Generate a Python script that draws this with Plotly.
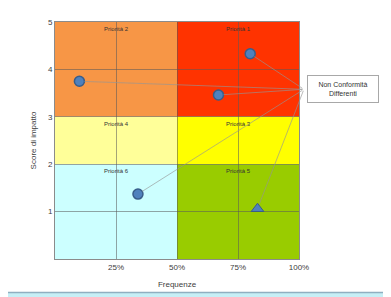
import plotly.graph_objects as go

# Data
freq = [0.10, 0.80, 0.67, 0.34]
impact = [3.75, 4.33, 3.46, 1.37]
tri_freq = [0.83]
tri_impact = [1.06]
priority_labels = ["Priorità 1", "Priorità 2", "Priorità 3", "Priorità 4", "Priorità 5", "Priorità 6"]
x_ticks = [0.25, 0.5, 0.75, 1.0]
x_tick_text = ["25%", "50%", "75%", "100%"]
y_ticks = [1, 2, 3, 4, 5]
callout_text = "Non Conformità<br>Differenti"

fig = go.Figure()

marker_color = "#4F81BD"
edge_color = "#385D8A"

fig.add_trace(go.Scatter(x=freq, y=impact, mode="markers",
                         marker=dict(size=10, color=marker_color, line=dict(color=edge_color, width=1.5)),
                         showlegend=False, hoverinfo="skip"))
fig.add_trace(go.Scatter(x=tri_freq, y=tri_impact, mode="markers",
                         marker=dict(size=11, symbol="triangle-up", color=marker_color,
                                     line=dict(color=edge_color, width=1)),
                         showlegend=False, hoverinfo="skip"))

zones = [
    (0, 0.5, 3, 5, "#F79646"),
    (0.5, 1, 3, 5, "#FF3300"),
    (0, 0.5, 2, 3, "#FFFF99"),
    (0.5, 1, 2, 3, "#FFFF00"),
    (0, 0.5, 0, 2, "#CCFFFF"),
    (0.5, 1, 0, 2, "#99CC00"),
]
shapes = []
shapes.append(dict(type="rect", xref="paper", yref="paper", x0=-0.25, x1=1.365, y0=-0.141, y1=1.1,
                   fillcolor="white", line=dict(color="#8FAFC0", width=1.5), layer="below"))
for x0, x1, y0, y1, c in zones:
    shapes.append(dict(type="rect", xref="x", yref="y", x0=x0, x1=x1, y0=y0, y1=y1,
                       fillcolor=c, line=dict(width=0), layer="below"))

label_pos = [(0.75, 5), (0.25, 5), (0.75, 3), (0.25, 3), (0.75, 2), (0.25, 2)]
annotations = []
for (lx, ly), t in zip(label_pos, priority_labels):
    annotations.append(dict(x=lx, y=ly, xref="x", yref="y", text=t, showarrow=False,
                            yanchor="top", yshift=-2, font=dict(size=6, color="#333333")))

anchor_x, anchor_y = 1.02, 3.58
for px, py in list(zip(freq, impact)) + list(zip(tri_freq, tri_impact)):
    annotations.append(dict(x=px, y=py, xref="x", yref="y", ax=anchor_x, ay=anchor_y,
                            axref="x", ayref="y", text="", showarrow=True, arrowhead=0,
                            arrowwidth=0.8, arrowcolor="rgba(150,150,150,0.8)", standoff=5))

annotations.append(dict(x=1.033, y=0.716, xref="paper", yref="paper", text=callout_text, showarrow=False,
                        xanchor="left", yanchor="middle", align="center",
                        font=dict(size=7, color="#333333"), width=64, height=20,
                        bordercolor="#A8A8A8", borderwidth=1, bgcolor="white", borderpad=3))

fig.update_layout(
    width=383, height=289,
    margin=dict(l=47, r=92, t=10, b=38),
    paper_bgcolor="#C6EFF6",
    plot_bgcolor="rgba(0,0,0,0)",
    font=dict(family="Liberation Sans, Arial, sans-serif", size=8, color="#404040"),
    shapes=shapes,
    annotations=annotations,
    xaxis=dict(range=[0, 1], tickvals=x_ticks, ticktext=x_tick_text, showgrid=True,
               gridcolor="rgba(90,90,90,0.55)", gridwidth=1, zeroline=False,
               showline=True, linecolor="rgba(90,90,90,0.7)", mirror=True, ticks="",
               title=dict(text="Frequenze", font=dict(size=8), standoff=10), tickfont=dict(size=8)),
    yaxis=dict(range=[0, 5], tickvals=y_ticks, showgrid=True,
               gridcolor="rgba(90,90,90,0.55)", gridwidth=1, zeroline=False,
               showline=True, linecolor="rgba(90,90,90,0.7)", mirror=True, ticks="",
               title=dict(text="Score di impatto", font=dict(size=8), standoff=10), tickfont=dict(size=8)),
)

fig.write_html("out.html")
